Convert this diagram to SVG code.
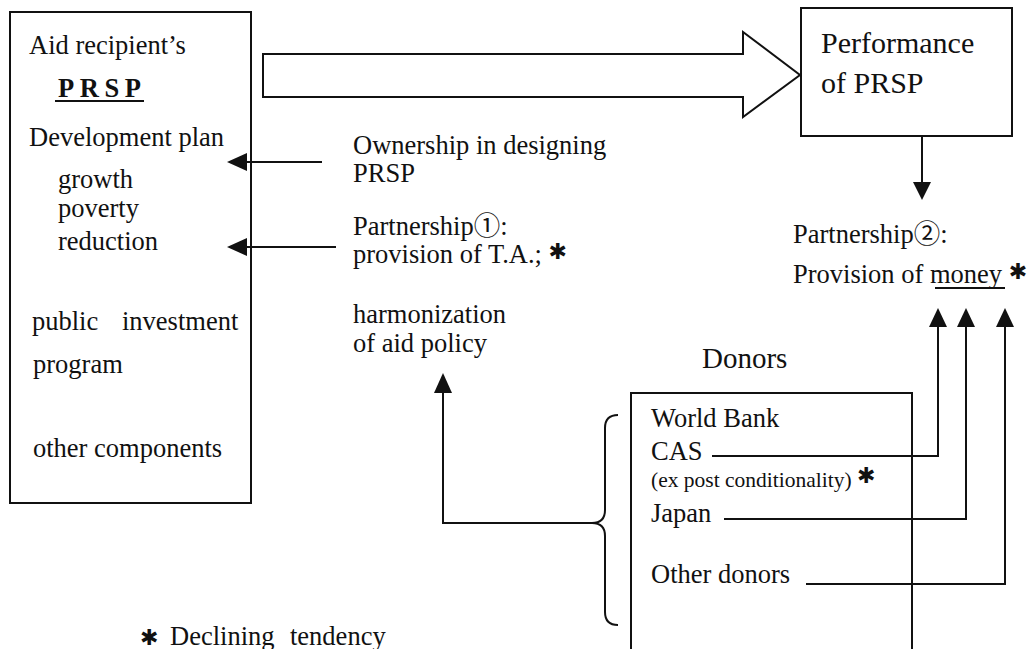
<svg xmlns="http://www.w3.org/2000/svg" width="1032" height="649" viewBox="0 0 1032 649">
<defs>
<style>
text{font-family:"Liberation Serif","Noto Sans CJK JP",serif;font-size:26.5px;fill:#111}
.big{font-size:30px}
.don{font-size:29px}
.small{font-size:21.5px}
.bold{font-weight:bold}
.ast{font-family:"DejaVu Sans","Noto Sans CJK JP",sans-serif;font-size:22px;font-weight:bold}
.ln{fill:none;stroke:#111;stroke-width:2}
.hd{fill:#111;stroke:none}
</style>
</defs>
<g id="recipient">
<rect class="ln" x="10" y="12" width="241" height="491"/>
<text x="29" y="54">Aid recipient’s</text>
<text class="bold" x="58" y="97" textLength="83" lengthAdjust="spacing">PRSP</text>
<line class="ln" x1="55" y1="101" x2="144" y2="101" stroke-width="1.5"/>
<text x="29" y="146">Development plan</text>
<text x="58" y="188">growth</text>
<text x="58" y="217">poverty</text>
<text x="58" y="250">reduction</text>
<text x="32" y="330">public</text>
<text x="122" y="330">investment</text>
<text x="33" y="373">program</text>
<text x="33" y="457">other components</text>
</g>
<g id="performance">
<rect class="ln" x="801" y="8" width="211" height="128"/>
<text class="big" x="821" y="53">Performance</text>
<text class="big" x="821" y="93">of PRSP</text>
</g>
<g id="ownership">
<text x="353" y="154">Ownership in designing</text>
<text x="353" y="182">PRSP</text>
</g>
<g id="partnership1">
<text x="353" y="235">Partnership①:</text>
<text x="353" y="263">provision of T.A.; <tspan class="ast" dy="-4">✱</tspan></text>
</g>
<g id="harmonization">
<text x="353" y="323">harmonization</text>
<text x="353" y="352">of aid policy</text>
</g>
<g id="partnership2">
<text x="793" y="243">Partnership②:</text>
<text x="793" y="283">Provision of money <tspan class="ast" dy="-4">✱</tspan></text>
<line class="ln" x1="935" y1="288" x2="1005" y2="288" stroke-width="1.5"/>
</g>
<g id="donors">
<text class="don" x="702" y="368">Donors</text>
<path class="ln" d="M631,649 L631,393 L912,393 L912,649"/>
<text x="651" y="427">World Bank</text>
<text x="651" y="460">CAS</text>
<text class="small" x="651" y="487">(ex post conditionality) <tspan class="ast" dy="-4">✱</tspan></text>
<text x="651" y="522">Japan</text>
<text x="651" y="583">Other donors</text>
</g>
<g id="footnote">
<text x="140" y="645"><tspan class="ast">✱</tspan><tspan x="170">Declining</tspan><tspan x="290">tendency</tspan></text>
</g>
<g id="connectors">
<path class="ln" d="M263,54 L743,54 L743,32 L800,75 L743,117 L743,97 L263,97 Z"/>
<line class="ln" x1="322" y1="162" x2="245" y2="162"/>
<polygon class="hd" points="227,162 247,153 247,171"/>
<line class="ln" x1="336" y1="247" x2="245" y2="247"/>
<polygon class="hd" points="227,247 247,238 247,256"/>
<line class="ln" x1="922" y1="136" x2="922" y2="184"/>
<polygon class="hd" points="913,182 931,182 922,200"/>
<polyline class="ln" points="712,456 938,456 938,325"/>
<polygon class="hd" points="929,327 947,327 938,308"/>
<polyline class="ln" points="724,519 966,519 966,325"/>
<polygon class="hd" points="957,327 975,327 966,308"/>
<polyline class="ln" points="806,584 1005,584 1005,325"/>
<polygon class="hd" points="996,327 1014,327 1005,308"/>
<path class="ln" d="M618,415 Q605,415 605,428 L605,510 Q605,523 592,523 Q605,523 605,536 L605,612 Q605,625 618,625"/>
<polyline class="ln" points="592,523 443,523 443,391"/>
<polygon class="hd" points="434,393 452,393 443,373"/>
</g>
</svg>
